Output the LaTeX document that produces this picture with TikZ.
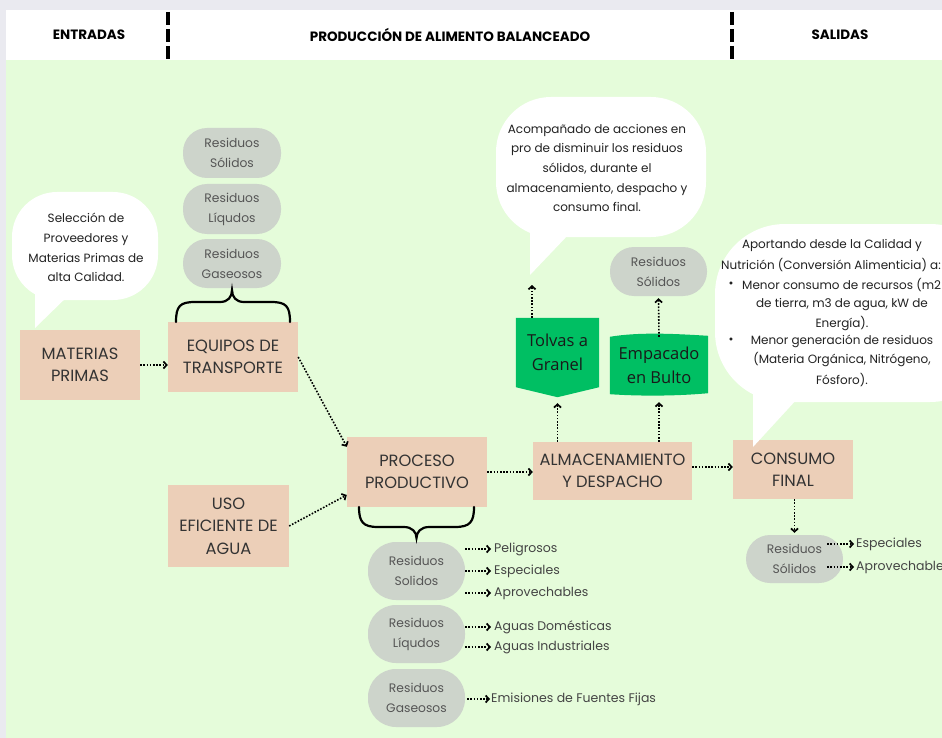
\documentclass[tikz,border=0pt]{standalone}
\usepackage{fontspec}
\setmainfont{Poppins}
\newfontfamily\greenfont{Open Sans}
\usetikzlibrary{arrows.meta}
\definecolor{bggreen}{HTML}{E5FCDA}
\definecolor{peach}{HTML}{ECCFB8}
\definecolor{pillgray}{HTML}{CDD4CB}
\definecolor{vgreen}{HTML}{00BF63}
\definecolor{framegray}{HTML}{EAEAF0}
\definecolor{boxtext}{HTML}{333333}
\definecolor{pilltext}{HTML}{555555}
\definecolor{labeltext}{HTML}{444444}
\definecolor{bubtext}{HTML}{222222}
\begin{document}
\begin{tikzpicture}[x=1pt,y=-1pt,
  box/.style={fill=peach, inner sep=0pt, align=center, text=boxtext, font=\fontsize{16.3}{22.5}\selectfont},
  pill/.style={fill=pillgray, rounded corners=24pt, inner sep=0pt, align=center, text=pilltext, font=\fontsize{12.3}{20}\selectfont},
  bigpill/.style={pill, rounded corners=28pt},
  lbl/.style={anchor=west, inner sep=0pt, text=labeltext, font=\fontsize{12.5}{15}\selectfont},
  gtext/.style={inner sep=0pt, align=center, text=black!90, font=\greenfont\fontsize{16.5}{24.5}\selectfont},
  gshape/.style={inner sep=0pt},
  btext/.style={inner sep=0pt, align=center, text=bubtext, font=\fontsize{12}{19.7}\selectfont},
  bline/.style={inner sep=0pt, text=bubtext, font=\fontsize{12}{14}\selectfont},
  head/.style={inner sep=0pt, font=\fontsize{13.5}{15}\selectfont\bfseries},
  flow/.style={line width=1.6pt, dash pattern=on 1.6pt off 1.6pt, -{Straight Barb[length=3.2pt,width=7pt,line width=1.7pt]}},
  brace/.style={line width=2.2pt, line cap=round},
  bubble/.style={fill=white},
  divider/.style={line width=3.6pt, dash pattern=on 13pt off 4pt}
]
\useasboundingbox (0,0) rectangle (942,738);
\clip (0,0) rectangle (942,738);
% frame and background
\fill[framegray] (0,0) rectangle (942,738);
\fill[white] (6,10) rectangle (942,60);
\fill[bggreen] (6,60) rectangle (942,738);
% header
\node[head] (h1) at (89,35) {ENTRADAS};
\node[head] (h2) at (450,35) {PRODUCCIÓN DE ALIMENTO BALANCEADO};
\node[head] (h3) at (840,35) {SALIDAS};
\draw[divider] (168,12) -- (168,59);
\draw[divider] (732,12) -- (732,59);

% main boxes
\node[box, minimum width=120, minimum height=70] (mp) at (80,365) {MATERIAS\\PRIMAS};
\node[box, minimum width=130, minimum height=70] (eq) at (233,357) {EQUIPOS DE\\TRANSPORTE};
\node[box, minimum width=121, minimum height=82] (uso) at (228.5,526) {USO\\EFICIENTE DE\\AGUA};
\node[box, minimum width=140, minimum height=70] (pp) at (417,472) {PROCESO\\PRODUCTIVO};
\node[box, minimum width=159, minimum height=58] (alm) at (612.5,471) {ALMACENAMIENTO\\Y DESPACHO};
\node[box, minimum width=120, minimum height=59] (cf) at (793,469.5) {CONSUMO\\FINAL};

% green shapes
\node[gshape, minimum width=83, minimum height=79] (tg) at (557.5,357.5) {};
\fill[vgreen] (tg.north west) -- (tg.north east) -- ([yshift=10pt]tg.south east) -- (tg.south) -- ([yshift=10pt]tg.south west) -- cycle;
\node[gtext] (tgt) at ([yshift=5pt]tg.center) {Tolvas a\\Granel};
\node[gshape, minimum width=98, minimum height=57] (eb) at (659,365.5) {};
\fill[vgreen] (eb.north west) .. controls ([xshift=30pt,yshift=5pt]eb.north west) and ([xshift=-33pt,yshift=3pt]eb.north east) .. ([yshift=1pt]eb.north east) -- ([yshift=1pt]eb.south east) .. controls ([xshift=-33pt,yshift=-2pt]eb.south east) and ([xshift=30pt,yshift=-2pt]eb.south west) .. (eb.south west) -- cycle;
\node[gtext] (ebt) at (eb.center) {Empacado\\en Bulto};

% pills
\node[pill, minimum width=98, minimum height=50] (ps1) at (232,153) {Residuos\\Sólidos};
\node[pill, minimum width=98, minimum height=50] (pl1) at (232,209) {Residuos\\Líqudos};
\node[pill, minimum width=98, minimum height=49] (pg1) at (232,263.5) {Residuos\\Gaseosos};
\node[pill, minimum width=97, minimum height=49] (ps2) at (658.5,271.5) {Residuos\\Sólidos};
\node[bigpill, minimum width=97, minimum height=58] (ps3) at (416.5,571) {Residuos\\Solidos};
\node[bigpill, minimum width=97, minimum height=58] (pl3) at (416.5,634) {Residuos\\Líqudos};
\node[bigpill, minimum width=97, minimum height=58] (pg3) at (416.5,698) {Residuos\\Gaseosos};
\node[pill, minimum width=97, minimum height=48] (ps4) at (794.5,559) {Residuos\\Sólidos};

% labels
\node[lbl] (l1) at (494,549) {Peligrosos};
\node[lbl] (l2) at (494,571) {Especiales};
\node[lbl] (l3) at (494,593) {Aprovechables};
\node[lbl] (l4) at (494,627) {Aguas Domésticas};
\node[lbl] (l5) at (494,647) {Aguas Industriales};
\node[lbl] (l6) at (491,699) {Emisiones de Fuentes Fijas};
\node[lbl] (l7) at (856,544) {Especiales};
\node[lbl] (l8) at (856,567) {Aprovechables};

% braces
\draw[brace] (176,322) .. controls (176,306) and (180,302) .. (195,302) -- (220,302) .. controls (228,302) and (232,297) .. (232,290) .. controls (232,297) and (236,302) .. (244,302) -- (271,302) .. controls (286,302) and (290,306) .. (290,322);
\draw[brace] (359,507) .. controls (359,522) and (363,527) .. (378,527) -- (404,527) .. controls (412,527) and (416.5,532) .. (416.5,538) .. controls (416.5,532) and (421,527) .. (429,527) -- (455,527) .. controls (470,527) and (474,522) .. (474,507);

% bubbles
\fill[bubble, rounded corners=45pt] (12,192) rectangle (158,300);
\fill[bubble] (35,285) -- (35,328) -- (72,292) -- cycle;
\node[btext] (bt1) at (86,247.5) {Selección de\\Proveedores y\\Materias Primas de\\alta Calidad.};

\fill[bubble, rounded corners=55pt] (496,97) rectangle (706,237);
\fill[bubble] (530,225) -- (530,275) -- (570,233) -- cycle;
\coordinate (tailA) at (532,275);
\node[btext] (bt2) at (597,168) {Acompañado de acciones en\\pro de disminuir los residuos\\sólidos, durante el\\almacenamiento, despacho y\\consumo final.};

\fill[bubble, rounded corners=70pt] (715,224) rectangle (1000,402);
\fill[bubble] (753,390) -- (753,447) -- (798,398) -- cycle;
\node[bline] (t1) at (832,245) {Aportando desde la Calidad y};
\node[bline, anchor=west] (t2) at (721,265) {Nutrición (Conversión Alimenticia) a:};
\node[bline] (bu1) at (731,285) {•};
\node[bline, anchor=west] (t3) at (742,285) {Menor consumo de recursos (m2};
\node[bline] (t4) at (842,305) {de tierra, m3 de agua, kW de};
\node[bline] (t5) at (842,324) {Energía).};
\node[bline] (bu2) at (731,341) {•};
\node[bline] (t6) at (842,341) {Menor generación de residuos};
\node[bline] (t7) at (842,360) {(Materia Orgánica, Nitrógeno,};
\node[bline] (t8) at (842,380) {Fósforo).};

% connectors
\draw[flow] (mp.east) -- (mp.east -| eq.west);
\draw[flow] (eq.east) -- ([yshift=-10pt]pp.north west);
\draw[flow] (uso.east) -- ([yshift=-23pt]pp.west);
\draw[flow] (pp.east) -- (pp.east -| alm.west);
\draw[flow] ([yshift=4pt]alm.east) -- ([yshift=4pt]alm.east -| cf.west);
\draw[flow, shorten >=6pt] (tg.south |- alm.north) -- (tg.south);
\draw[flow, shorten >=8pt] (eb.south |- alm.north) -- (eb.south);
\draw[flow, shorten >=10pt] (tg.north -| tailA) -- (tailA);
\draw[flow, shorten >=2pt] (eb.north) -- (ps2.south);
\draw[flow, shorten >=2pt] (ps4.north |- cf.south) -- (ps4.north);
\foreach \l in {l1,l2,l3,l4,l5}{
  \draw[flow, shorten >=3pt] (ps3.east |- \l.west) -- (\l.west);
}
\draw[flow, shorten >=1pt] ([xshift=2pt]pg3.east |- l6.west) -- (l6.west);
\draw[flow, shorten >=2pt] ([xshift=-16pt]ps4.east |- l7.west) -- (l7.west);
\draw[flow, shorten >=2pt] ([xshift=-16pt]ps4.east |- l8.west) -- (l8.west);
\end{tikzpicture}
\end{document}
